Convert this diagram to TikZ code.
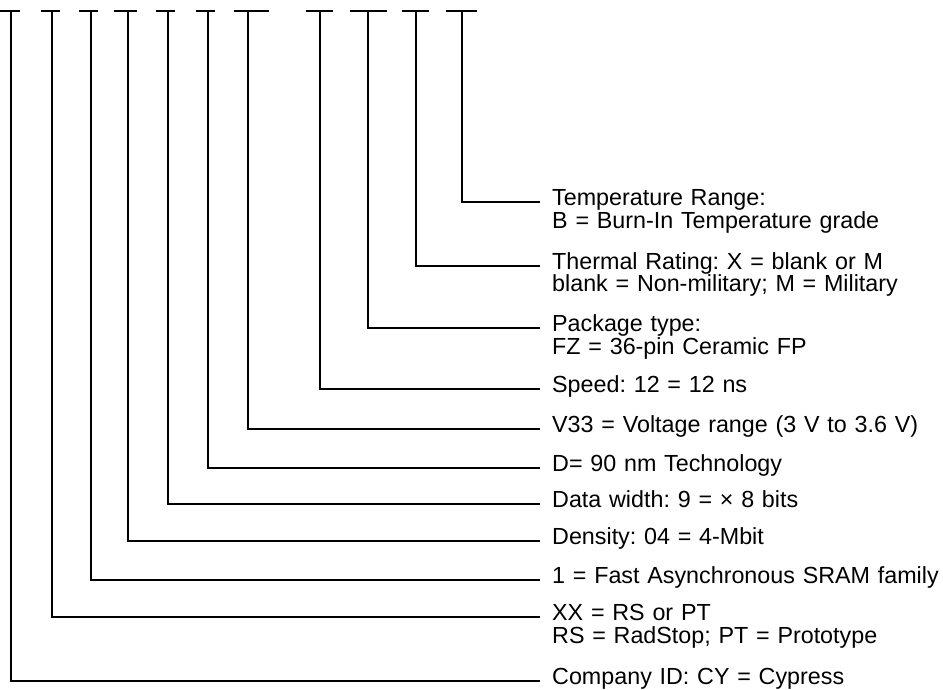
\documentclass[tikz,border=0pt]{standalone}
\usepackage{fontspec}
\setmainfont{Liberation Sans}
\usetikzlibrary{positioning}
\frenchspacing
\tikzset{
  pinline/.style={black, line width=2pt},
  field/.style={anchor=base west, inner sep=0pt, text width=14cm, align=left,
    font=\fontsize{23.3}{23}\selectfont},
}
\begin{document}
\begin{tikzpicture}[x=1pt,y=-1pt]
  \useasboundingbox (0,0) rectangle (943,690);
  % Ordering code fields: number / pin x / dash from / dash to / level / text
  \foreach \n/\px/\da/\db/\ly/\txt in {
      1/11/0/20/681/{Company ID: CY = Cypress},
      2/52/41/60/617/{XX = RS or PT\\RS = RadStop; PT = Prototype},
      3/91/79/98/580/{1 = Fast Asynchronous SRAM family},
      4/128/114/137/541/{Density: 04 = 4-Mbit},
      5/168/156/175/504/{Data width: 9 = × 8 bits},
      6/208/196/215/468/{D= 90 nm Technology},
      7/248/234/269/429/{V33 = Voltage range (3 V to 3.6 V)},
      8/320/306/333/389/{Speed: 12 = 12 ns},
      9/368/350/387/328/{Package type:\\FZ = 36-pin Ceramic FP},
      10/416/402/429/266/{Thermal Rating: X = blank or M\\blank = Non-military; M = Military},
      11/462/446/477/202/{Temperature Range:\\B = Burn-In Temperature grade}}
  {
    % Code character slot
    \coordinate (p\n) at (\px,11);
    \draw[pinline] (\da,11) -- (\db,11);
    % Field description
    \coordinate (e\n) at (540,\ly);
    \node[field] (t\n) at ([xshift=12pt, yshift=-3pt]e\n) {\txt};
    \draw[pinline] (p\n) |- (e\n);
  }
\end{tikzpicture}
\end{document}
